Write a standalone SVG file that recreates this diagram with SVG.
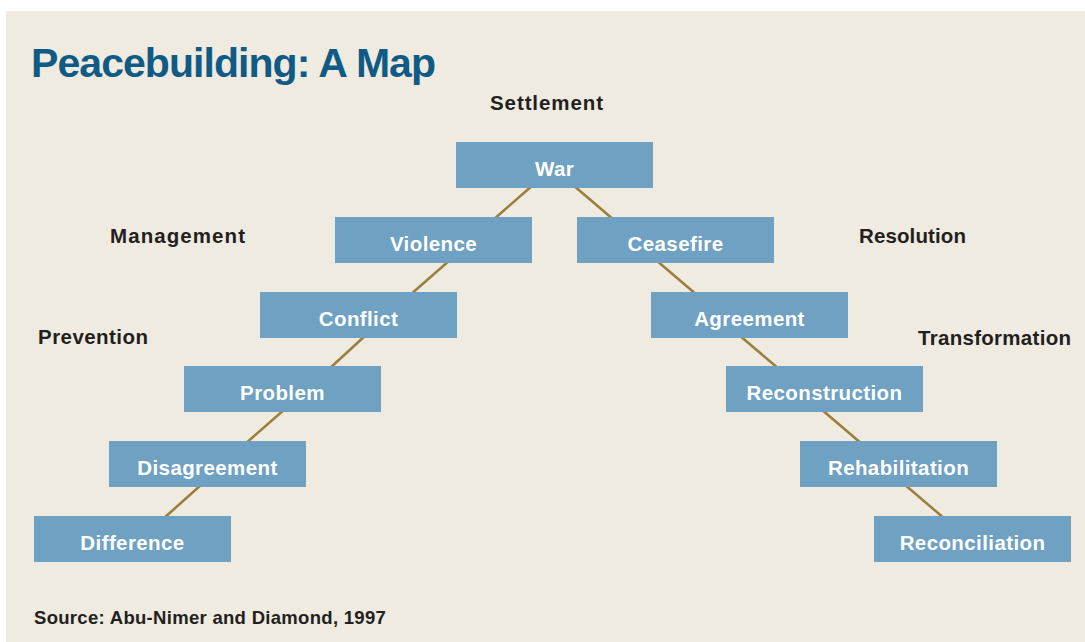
<svg xmlns="http://www.w3.org/2000/svg" width="1085" height="642" viewBox="0 0 1085 642">
<style>
.box{fill:#6ea1c2}
.bt{font-family:"Liberation Sans",Arial,sans-serif;font-weight:bold;font-size:20.5px;fill:#ffffff;text-anchor:middle;letter-spacing:0.4px}
.lab{font-family:"Liberation Sans",Arial,sans-serif;font-weight:bold;font-size:20.5px;fill:#231f20}
.con line{stroke:#9c7e3c;stroke-width:2.5}
</style>
<rect x="0" y="0" width="1085" height="642" fill="#ffffff"/>
<rect x="6" y="11" width="1079" height="631" fill="#efebe0"/>
<text x="31" y="77" font-family="Liberation Sans,Arial,sans-serif" font-weight="bold" font-size="41" fill="#0f5b85" textLength="405" lengthAdjust="spacing">Peacebuilding: A Map</text>
<g id="labels">
<text class="lab" x="490" y="110" textLength="113" lengthAdjust="spacing">Settlement</text>
<text class="lab" x="110" y="243" textLength="135" lengthAdjust="spacing">Management</text>
<text class="lab" x="859" y="243" textLength="107" lengthAdjust="spacing">Resolution</text>
<text class="lab" x="38" y="344" textLength="110" lengthAdjust="spacing">Prevention</text>
<text class="lab" x="918" y="345" textLength="153" lengthAdjust="spacing">Transformation</text>
</g>
<g id="connectors" class="con">
<line x1="533" y1="185" x2="493" y2="220"/>
<line x1="573" y1="185" x2="614" y2="220"/>
<line x1="450" y1="260" x2="410" y2="295"/>
<line x1="366" y1="335" x2="329" y2="369"/>
<line x1="285" y1="409" x2="245" y2="444"/>
<line x1="202" y1="484" x2="163" y2="519"/>
<line x1="656" y1="260" x2="697" y2="295"/>
<line x1="739" y1="335" x2="779" y2="369"/>
<line x1="821" y1="409" x2="862" y2="444"/>
<line x1="904" y1="484" x2="945" y2="519"/>
</g>
<g id="war"><rect class="box" x="456" y="142" width="197" height="46"/><text class="bt" x="554.5" y="176">War</text></g>
<g id="violence"><rect class="box" x="335" y="217" width="197" height="46"/><text class="bt" x="433.5" y="251">Violence</text></g>
<g id="ceasefire"><rect class="box" x="577" y="217" width="197" height="46"/><text class="bt" x="675.5" y="251">Ceasefire</text></g>
<g id="conflict"><rect class="box" x="260" y="292" width="197" height="46"/><text class="bt" x="358.5" y="326">Conflict</text></g>
<g id="agreement"><rect class="box" x="651" y="292" width="197" height="46"/><text class="bt" x="749.5" y="326">Agreement</text></g>
<g id="problem"><rect class="box" x="184" y="366" width="197" height="46"/><text class="bt" x="282.5" y="400">Problem</text></g>
<g id="reconstruction"><rect class="box" x="726" y="366" width="197" height="46"/><text class="bt" x="824.5" y="400">Reconstruction</text></g>
<g id="disagreement"><rect class="box" x="109" y="441" width="197" height="46"/><text class="bt" x="207.5" y="475">Disagreement</text></g>
<g id="rehabilitation"><rect class="box" x="800" y="441" width="197" height="46"/><text class="bt" x="898.5" y="475">Rehabilitation</text></g>
<g id="difference"><rect class="box" x="34" y="516" width="197" height="46"/><text class="bt" x="132.5" y="550">Difference</text></g>
<g id="reconciliation"><rect class="box" x="874" y="516" width="197" height="46"/><text class="bt" x="972.5" y="550">Reconciliation</text></g>
<text x="34" y="624" font-family="Liberation Sans,Arial,sans-serif" font-weight="bold" font-size="18.5" letter-spacing="0.3" fill="#231f20">Source: Abu-Nimer and Diamond, 1997</text>
</svg>
